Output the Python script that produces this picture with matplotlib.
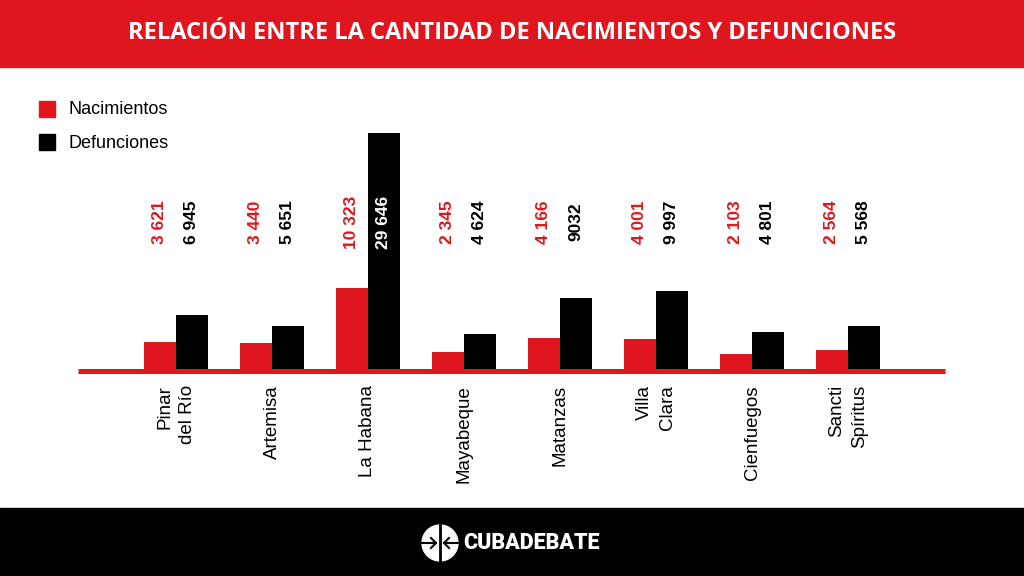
import matplotlib.pyplot as plt
from matplotlib.patches import Rectangle, Ellipse

provincias = ["Pinar\ndel Río", "Artemisa", "La Habana", "Mayabeque",
              "Matanzas", "Villa\nClara", "Cienfuegos", "Sancti\nSpíritus"]
nacimientos = [3621, 3440, 10323, 2345, 4166, 4001, 2103, 2564]
defunciones = [6945, 5651, 29646, 4624, 9032, 9997, 4801, 5568]
etiq_nac = ["3 621", "3 440", "10 323", "2 345", "4 166", "4 001", "2 103", "2 564"]
etiq_def = ["6 945", "5 651", "29 646", "4 624", "9032", "9 997", "4 801", "5 568"]

ROJO = "#e0161e"
W, H = 1024, 576

fig = plt.figure(figsize=(10.24, 5.76), dpi=100)

# header / footer bands
fig.patches.append(Rectangle((0, 1 - 67 / H), 1, 67 / H, transform=fig.transFigure,
                             color=ROJO, zorder=0))
fig.patches.append(Rectangle((0, 0), 1, 68 / H, transform=fig.transFigure,
                             color="black", zorder=0))
fig.text(0.5, 1 - 33 / H, "RELACIÓN ENTRE LA CANTIDAD DE NACIMIENTOS Y DEFUNCIONES",
         color="white", fontsize=17, fontweight="bold", family="Open Sans",
         ha="center", va="center")

# chart area: baseline at y=371px, tallest bar top at y=133px
base, top = 371, 133
ax = fig.add_axes([78 / W, 1 - base / H, (945 - 78) / W, (base - top) / H])
ax.set_xlim((78 - 176) / 96, (945 - 176) / 96)
ax.set_ylim(0, max(defunciones))
ax.axis("off")

x = list(range(len(provincias)))
bw = 32 / 96
ax.bar([i - bw / 2 for i in x], nacimientos, width=bw, color=ROJO, label="Nacimientos")
ax.bar([i + bw / 2 for i in x], defunciones, width=bw, color="black", label="Defunciones")
ax.plot([0, 1], [0, 0], transform=ax.transAxes, color=ROJO, lw=3.6,
        solid_capstyle="butt", clip_on=False, zorder=5)

tr = ax.get_xaxis_transform()
ylab = (base - 222) / (base - top)
for i in x:
    ax.text(i - bw / 2, ylab, etiq_nac[i], transform=tr, rotation=90, color=ROJO,
            fontsize=12.5, fontweight="bold", family="Liberation Sans",
            ha="center", va="center")
    col_d = "white" if defunciones[i] > 20000 else "black"
    ax.text(i + bw / 2, ylab, etiq_def[i], transform=tr, rotation=90, color=col_d,
            fontsize=12.5, fontweight="bold", family="Liberation Sans",
            ha="center", va="center", zorder=6)
    ax.text(i, -(385 - base) / (base - top), provincias[i], transform=tr, rotation=90,
            fontsize=13.5, family="Liberation Sans", ha="center", va="top",
            multialignment="right", linespacing=1.45, clip_on=False)

# legend
for k, (lab, col) in enumerate([("Nacimientos", ROJO), ("Defunciones", "black")]):
    yc = 109 + k * 33
    fig.patches.append(Rectangle((39 / W, 1 - (yc + 8) / H), 16 / W, 16 / H,
                                 transform=fig.transFigure, color=col))
    fig.text(68 / W, 1 - (yc + 1) / H, lab, fontsize=13, family="Liberation Sans",
             ha="left", va="center")

# footer logo
cx, cy, r = 440, 543, 18
fig.patches.append(Ellipse((cx / W, 1 - cy / H), 2 * r / W, 2 * r / H,
                           transform=fig.transFigure, color="white"))
fig.add_artist(plt.Line2D([cx / W, cx / W], [1 - (cy - r) / H, 1 - (cy + r) / H],
                          transform=fig.transFigure, color="black", lw=2))
for sgn in (-1, 1):
    fig.add_artist(plt.Line2D([(cx + sgn * r) / W, (cx + sgn * 4) / W], [1 - cy / H] * 2,
                              transform=fig.transFigure, color="black", lw=1.5))
    fig.add_artist(plt.Line2D([(cx + sgn * 9) / W, (cx + sgn * 4) / W, (cx + sgn * 9) / W],
                              [1 - (cy - 5) / H, 1 - cy / H, 1 - (cy + 5) / H],
                              transform=fig.transFigure, color="black", lw=1.5))
fig.text(463 / W, 1 - cy / H, "CUBADEBATE", color="white", fontsize=15.5,
         fontweight="heavy", family="Roboto", ha="left", va="center",
         fontstretch="condensed")

fig.savefig("out.png", dpi=100)
